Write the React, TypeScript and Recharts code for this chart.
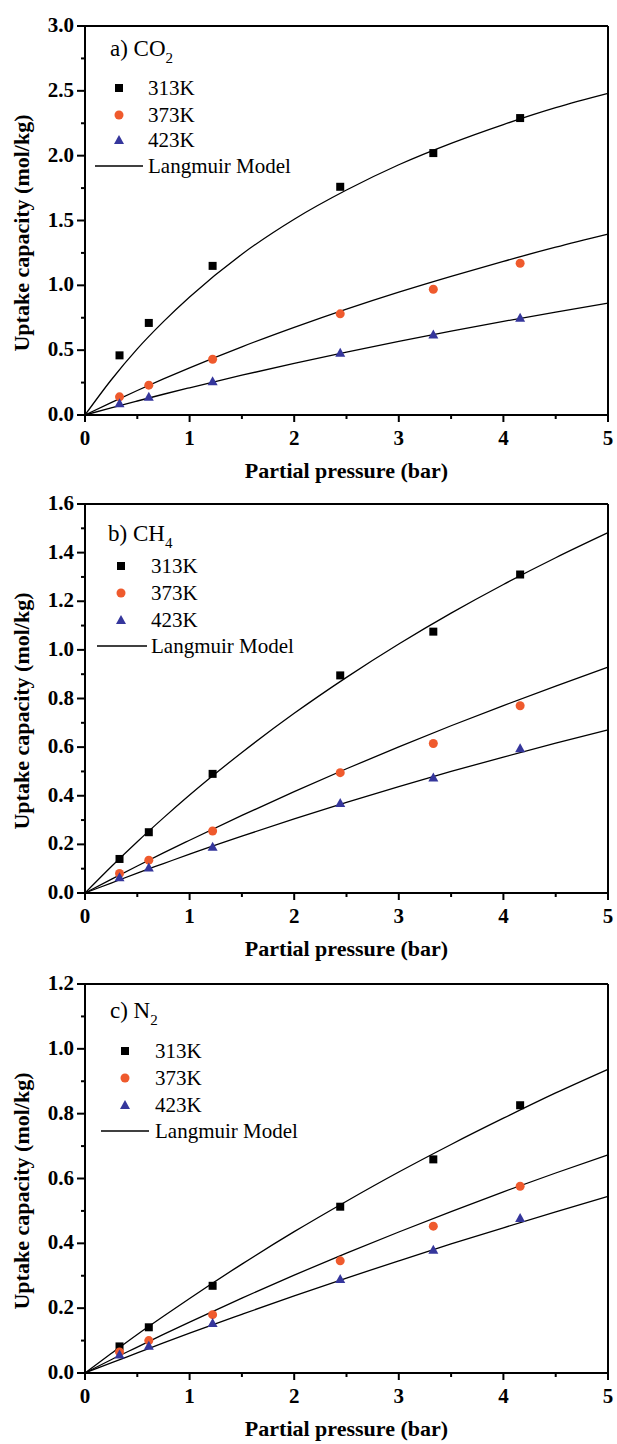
import { ComposedChart, Scatter, Line, XAxis, YAxis, ReferenceLine, Legend, Label } from 'recharts';

// measured partial pressures (bar)
const pressures = [0.33, 0.61, 1.22, 2.44, 3.33, 4.16];

// uptake (mol/kg)
const co2At313 = [0.46, 0.71, 1.15, 1.76, 2.02, 2.29];
const co2At373 = [0.14, 0.23, 0.43, 0.78, 0.97, 1.17];
const co2At423 = [0.09, 0.14, 0.26, 0.48, 0.62, 0.75];
const ch4At313 = [0.14, 0.25, 0.49, 0.895, 1.075, 1.31];
const ch4At373 = [0.08, 0.135, 0.255, 0.495, 0.615, 0.77];
const ch4At423 = [0.065, 0.105, 0.19, 0.37, 0.475, 0.595];
const n2At313 = [0.082, 0.141, 0.269, 0.513, 0.659, 0.826];
const n2At373 = [0.065, 0.1, 0.18, 0.346, 0.453, 0.576];
const n2At423 = [0.057, 0.084, 0.154, 0.29, 0.38, 0.478];

// Langmuir model curves, read at these pressures
const modelPressures = [0, 0.25, 0.5, 0.75, 1, 1.5, 2, 2.5, 3, 3.5, 4, 4.5, 5];
const co2Fit313 = [0, 0.27, 0.51, 0.72, 0.91, 1.24, 1.51, 1.735, 1.93, 2.095, 2.24, 2.37, 2.48];
const co2Fit373 = [0, 0.096, 0.189, 0.278, 0.364, 0.526, 0.676, 0.817, 0.948, 1.07, 1.185, 1.294, 1.395];
const co2Fit423 = [0, 0.055, 0.108, 0.16, 0.21, 0.307, 0.398, 0.485, 0.568, 0.647, 0.722, 0.794, 0.863];
const ch4Fit313 = [0, 0.108, 0.211, 0.309, 0.403, 0.578, 0.739, 0.887, 1.024, 1.151, 1.269, 1.379, 1.482];
const ch4Fit373 = [0, 0.056, 0.111, 0.165, 0.217, 0.319, 0.417, 0.511, 0.601, 0.688, 0.771, 0.851, 0.929];
const ch4Fit423 = [0, 0.041, 0.082, 0.121, 0.16, 0.234, 0.305, 0.373, 0.438, 0.5, 0.559, 0.616, 0.671];
const n2Fit313 = [0, 0.06, 0.119, 0.175, 0.23, 0.336, 0.436, 0.53, 0.62, 0.705, 0.786, 0.864, 0.937];
const n2Fit373 = [0, 0.041, 0.08, 0.119, 0.157, 0.231, 0.302, 0.37, 0.435, 0.498, 0.559, 0.617, 0.673];
const n2Fit423 = [0, 0.031, 0.062, 0.093, 0.123, 0.181, 0.238, 0.293, 0.346, 0.398, 0.448, 0.497, 0.545];

const temperatures = ['313K', '373K', '423K'];
const modelName = 'Langmuir Model';

// ticks (majors get labels)
const xTicks = [0, 0.5, 1, 1.5, 2, 2.5, 3, 3.5, 4, 4.5, 5];
const co2Ticks = [0, 0.25, 0.5, 0.75, 1, 1.25, 1.5, 1.75, 2, 2.25, 2.5, 2.75, 3];
const ch4Ticks = [0, 0.1, 0.2, 0.3, 0.4, 0.5, 0.6, 0.7, 0.8, 0.9, 1, 1.1, 1.2, 1.3, 1.4, 1.5, 1.6];
const n2Ticks = [0, 0.1, 0.2, 0.3, 0.4, 0.5, 0.6, 0.7, 0.8, 0.9, 1, 1.1, 1.2];

const SERIF = "'Times New Roman', 'Liberation Serif', Times, 'DejaVu Serif', serif";
const W = 617;
const H = 488;
const LEFT = 85;
const TOP = 26;
const BOTTOM = 415;
const RIGHT = 608;
const COLORS = ['#000000', '#ef5a2d', '#35369c'];

const zip = (xs: number[], ys: number[]) => xs.map((p, i) => ({ p, q: ys[i] }));

const Marker = ({ kind, cx, cy }: { kind: number; cx: number; cy: number }) => {
  if (kind === 0) return <rect x={cx - 4} y={cy - 4} width={8} height={8} fill={COLORS[0]} />;
  if (kind === 1) return <circle cx={cx} cy={cy} r={4.5} fill={COLORS[1]} />;
  return <polygon points={`${cx},${cy - 5} ${cx + 5},${cy + 4} ${cx - 5},${cy + 4}`} fill={COLORS[2]} />;
};

interface KeyLayout {
  title: string;
  sub: string;
  titleX: number;
  titleY: number;
  markerX: number;
  textX: number;
  lineX1: number;
  lineX2: number;
  rows: number[];
}

const PanelKey = ({ k }: { k: KeyLayout }) => (
  <svg width={W} height={200} style={{ display: 'block' }}>
    <text x={k.titleX} y={k.titleY} fontFamily={SERIF} fontSize={23}>
      {k.title}
      <tspan fontSize={15} dy={7}>{k.sub}</tspan>
    </text>
    {temperatures.map((t, i) => (
      <g key={t}>
        <Marker kind={i} cx={k.markerX} cy={k.rows[i]} />
        <text x={k.textX} y={k.rows[i] + 7} fontFamily={SERIF} fontSize={21}>{t}</text>
      </g>
    ))}
    <line x1={k.lineX1} x2={k.lineX2} y1={k.rows[3]} y2={k.rows[3]} stroke="#000" strokeWidth={1.3} />
    <text x={k.textX} y={k.rows[3] + 7} fontFamily={SERIF} fontSize={21}>{modelName}</text>
  </svg>
);

const XTick = (props: any) => {
  const { x, payload } = props;
  const v = payload.value as number;
  const major = Number.isInteger(v);
  return (
    <g>
      <line x1={x} x2={x} y1={BOTTOM} y2={BOTTOM + (major ? 7 : 4)} stroke="#000" strokeWidth={2} />
      {major && (
        <text x={x} y={BOTTOM + 30} textAnchor="middle" fontFamily={SERIF} fontWeight="bold" fontSize={21}>
          {v}
        </text>
      )}
    </g>
  );
};

const makeYTick = (step: number) => (props: any) => {
  const { y, payload } = props;
  const v = payload.value as number;
  const major = Math.abs(v / step - Math.round(v / step)) < 1e-6;
  return (
    <g>
      <line x1={LEFT - (major ? 8 : 4)} x2={LEFT} y1={y} y2={y} stroke="#000" strokeWidth={2} />
      {major && (
        <text x={LEFT - 11} y={y + 6} textAnchor="end" fontFamily={SERIF} fontWeight="bold" fontSize={21}>
          {v.toFixed(1)}
        </text>
      )}
    </g>
  );
};

interface PanelProps {
  top: number;
  yMax: number;
  yTicks: number[];
  majorStep: number;
  points: number[][];
  fits: number[][];
  keyLayout: KeyLayout;
}

function Panel({ top, yMax, yTicks, majorStep, points, fits, keyLayout }: PanelProps) {
  return (
    <div style={{ position: 'absolute', left: 0, top, width: W, height: H }}>
      <ComposedChart width={W} height={H} margin={{ top: TOP, right: W - RIGHT, bottom: 0, left: 0 }}>
        <XAxis
          type="number"
          dataKey="p"
          domain={[0, 5]}
          ticks={xTicks}
          interval={0}
          height={H - BOTTOM}
          axisLine={{ stroke: '#000', strokeWidth: 2 }}
          tickLine={false}
          tick={XTick}
        >
          <Label
            content={() => (
              <text x={(LEFT + RIGHT) / 2} y={BOTTOM + 63} textAnchor="middle" fontFamily={SERIF} fontWeight="bold" fontSize={22}>
                Partial pressure (bar)
              </text>
            )}
          />
        </XAxis>
        <YAxis
          type="number"
          dataKey="q"
          domain={[0, yMax]}
          ticks={yTicks}
          interval={0}
          width={LEFT}
          axisLine={{ stroke: '#000', strokeWidth: 2 }}
          tickLine={false}
          tick={makeYTick(majorStep)}
        >
          <Label
            content={() => (
              <text
                x={29}
                y={TOP + 207}
                transform={`rotate(-90 29 ${TOP + 207})`}
                textAnchor="middle"
                fontFamily={SERIF}
                fontWeight="bold"
                fontSize={22}
              >
                Uptake capacity (mol/kg)
              </text>
            )}
          />
        </YAxis>
        <ReferenceLine y={yMax} stroke="#000" strokeWidth={2} />
        <ReferenceLine x={5} stroke="#000" strokeWidth={2} />
        {fits.map((f, i) => (
          <Line
            key={'fit' + i}
            data={zip(modelPressures, f)}
            dataKey="q"
            type="monotone"
            stroke="#000"
            strokeWidth={1.3}
            dot={false}
            isAnimationActive={false}
          />
        ))}
        {points.map((s, i) => (
          <Scatter
            key={temperatures[i]}
            name={temperatures[i]}
            data={zip(pressures, s)}
            dataKey="q"
            fill={COLORS[i]}
            shape={(p: any) => <Marker kind={i} cx={p.cx} cy={p.cy} />}
            isAnimationActive={false}
          />
        ))}
        <Legend
          verticalAlign="middle"
          align="center"
          content={() => <PanelKey k={keyLayout} />}
          wrapperStyle={{ position: 'absolute', left: 0, top: 0, width: W, height: 200 }}
        />
      </ComposedChart>
    </div>
  );
}

export default function App() {
  return (
    <div style={{ position: 'absolute', left: 0, top: 0, width: W, height: 1444, background: '#fff', overflow: 'hidden' }}>
      <Panel
        top={0}
        yMax={3}
        yTicks={co2Ticks}
        majorStep={0.5}
        points={[co2At313, co2At373, co2At423]}
        fits={[co2Fit313, co2Fit373, co2Fit423]}
        keyLayout={{ title: 'a) CO', sub: '2', titleX: 110, titleY: 56, markerX: 119, textX: 148, lineX1: 95, lineX2: 143, rows: [88, 115, 140, 166] }}
      />
      <Panel
        top={478}
        yMax={1.6}
        yTicks={ch4Ticks}
        majorStep={0.2}
        points={[ch4At313, ch4At373, ch4At423]}
        fits={[ch4Fit313, ch4Fit373, ch4Fit423]}
        keyLayout={{ title: 'b) CH', sub: '4', titleX: 108, titleY: 63, markerX: 121, textX: 151, lineX1: 97, lineX2: 147, rows: [88, 115, 142, 168] }}
      />
      <Panel
        top={958}
        yMax={1.2}
        yTicks={n2Ticks}
        majorStep={0.2}
        points={[n2At313, n2At373, n2At423]}
        fits={[n2Fit313, n2Fit373, n2Fit423]}
        keyLayout={{ title: 'c) N', sub: '2', titleX: 110, titleY: 60, markerX: 125, textX: 155, lineX1: 101, lineX2: 149, rows: [93, 120, 147, 173] }}
      />
    </div>
  );
}
